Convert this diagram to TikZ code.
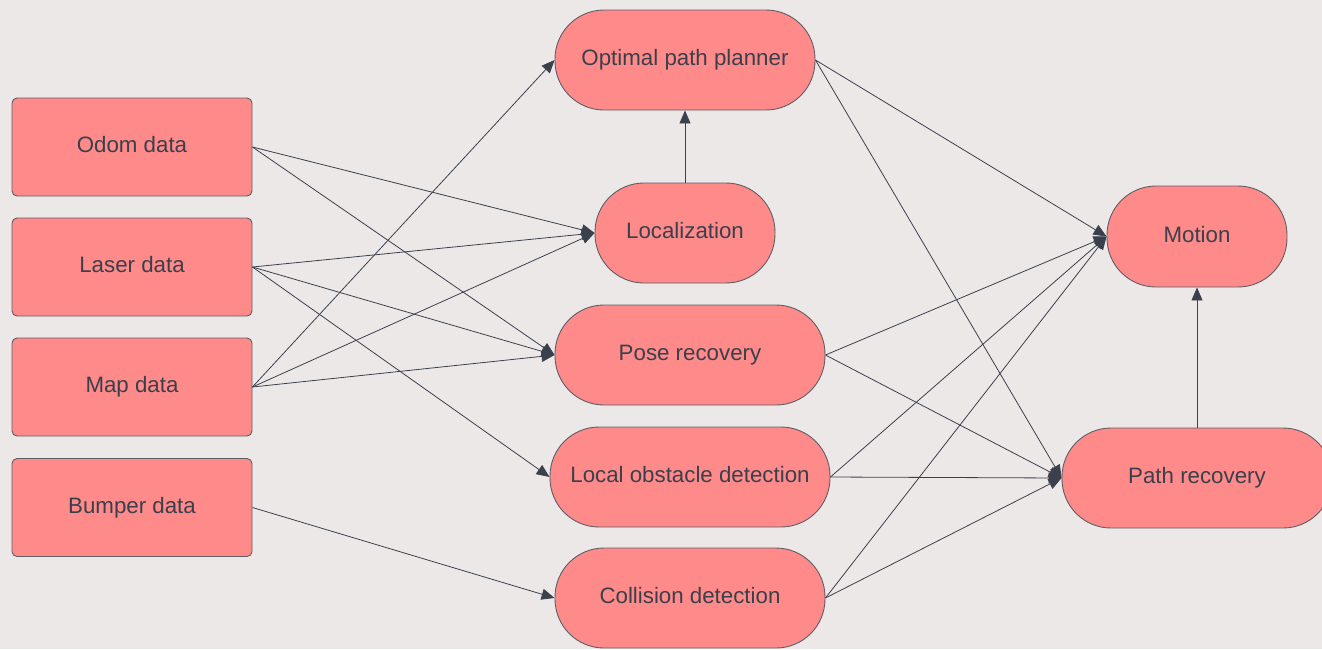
\documentclass[tikz,border=0pt]{standalone}
\usepackage{fontspec}
\setmainfont{Liberation Sans}
\usetikzlibrary{arrows.meta}
\definecolor{bg}{HTML}{EDE8E8}
\definecolor{boxfill}{HTML}{FF8A8A}
\definecolor{boxline}{HTML}{5E5E66}
\definecolor{txt}{HTML}{3A3F4B}
\definecolor{arr}{HTML}{3A414D}
\newcommand{\lbl}[1]{\raisebox{5pt}{#1}}
\tikzset{
  databox/.style={draw=boxline, fill=boxfill, line width=0.9pt, rounded corners=5pt,
    minimum width=240pt, minimum height=98pt, inner sep=0pt, text=txt, font=\fontsize{22.3}{26}\selectfont},
  stadium/.style={draw=boxline, fill=boxfill, line width=0.9pt, rounded corners=49pt,
    minimum height=100pt, inner sep=0pt, text=txt, font=\fontsize{22.3}{26}\selectfont},
  conn/.style={draw=arr, line width=0.8pt, -{Triangle[length=13pt,width=11pt]}}
}
\begin{document}
\begin{tikzpicture}[x=1pt,y=-1pt]
\fill[bg] (0,0) rectangle (1322,649);
\useasboundingbox (0,0) rectangle (1322,649);
% left data boxes
\node[databox] (odom) at (132,147) {\lbl{Odom data}};
\node[databox] (laser) at (132,267) {\lbl{Laser data}};
\node[databox] (map) at (132,387) {\lbl{Map data}};
\node[databox] (bumper) at (132,507.5) {\lbl{Bumper data}};
% middle
\node[stadium, minimum width=260pt] (opp) at (685,60) {\lbl{Optimal path planner}};
\node[stadium, minimum width=180pt] (loc) at (685,233) {\lbl{Localization}};
\node[stadium, minimum width=270pt] (pose) at (690,355) {\lbl{Pose recovery}};
\node[stadium, minimum width=280pt] (lod) at (690,477) {\lbl{Local obstacle detection}};
\node[stadium, minimum width=270pt] (coll) at (690,598) {\lbl{Collision detection}};
% right
\node[stadium, minimum width=180pt, minimum height=101pt] (motion) at (1197,236.5) {\lbl{Motion}};
\node[stadium, minimum width=270pt] (pathrec) at (1197,478) {\lbl{Path recovery}};
% connectors
\draw[conn] (odom.east) -- (loc.west);
\draw[conn] (odom.east) -- (pose.west);
\draw[conn] (laser.east) -- (loc.west);
\draw[conn] (laser.east) -- (pose.west);
\draw[conn] (laser.east) -- (lod.west);
\draw[conn] (map.east) -- (opp.west);
\draw[conn] (map.east) -- (loc.west);
\draw[conn] (map.east) -- (pose.west);
\draw[conn] (bumper.east) -- (coll.west);
\draw[conn] (loc.north) -- (opp.south);
\draw[conn] (opp.east) -- (motion.west);
\draw[conn] (opp.east) -- (pathrec.west);
\draw[conn] (pose.east) -- (motion.west);
\draw[conn] (pose.east) -- (pathrec.west);
\draw[conn] (lod.east) -- (motion.west);
\draw[conn] (lod.east) -- (pathrec.west);
\draw[conn] (coll.east) -- (motion.west);
\draw[conn] (coll.east) -- (pathrec.west);
\draw[conn] (pathrec.north) -- (motion.south);
\end{tikzpicture}
\end{document}
